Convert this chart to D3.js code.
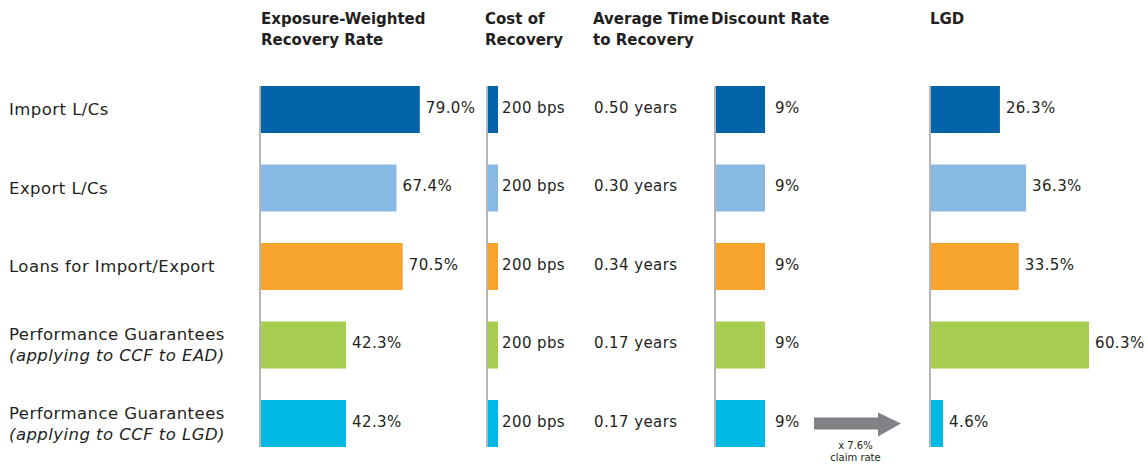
<!DOCTYPE html>
<html>
<head>
<meta charset="utf-8">
<script src="https://cdn.jsdelivr.net/npm/d3@7"></script>
<style>
  html, body { margin: 0; padding: 0; background: #fff; }
  svg { display: block; font-family: "DejaVu Sans", sans-serif; }
</style>
</head>
<body>
<svg id="chart" width="1148" height="464"></svg>
<script>
// Recovery assumptions by trade-finance product
const categories = [
  ["Import L/Cs"],
  ["Export L/Cs"],
  ["Loans for Import/Export"],
  ["Performance Guarantees", "(applying to CCF to EAD)"],
  ["Performance Guarantees", "(applying to CCF to LGD)"]
];
const colors = ["#0263a8", "#87b9e3", "#f7a42e", "#a6cd4f", "#00b9e4"];
const recoveryRate = [79.0, 67.4, 70.5, 42.3, 42.3];      // %
const costOfRecovery = [200, 200, 200, 200, 200];         // bps
const costLabels = ["200 bps", "200 bps", "200 bps", "200 pbs", "200 bps"];
const timeToRecovery = [0.50, 0.30, 0.34, 0.17, 0.17];    // years
const discountRate = [9, 9, 9, 9, 9];                     // %
const lgd = [26.3, 36.3, 33.5, 60.3, 4.6];                // %
const headers = [
  { lines: ["Exposure-Weighted", "Recovery Rate"], col: "rate" },
  { lines: ["Cost of", "Recovery"], col: "cost" },
  { lines: ["Average Time", "to Recovery"], col: "time" },
  { lines: ["Discount Rate"], col: "disc" },
  { lines: ["LGD"], col: "lgd" }
];
const claimNote = ["x 7.6%", "claim rate"];

const svg = d3.select("#chart");
const textColor = "#231f20";
const axisColor = "#b5b5b5";

const rows = d3.range(categories.length);
const y = d3.scaleBand().domain(rows).range([86, 447]).paddingInner(0.401).paddingOuter(0);

// one horizontal scale per column
const xRate = d3.scaleLinear().domain([0, 100]).range([261, 462]);
const xCost = d3.scaleLinear().domain([0, 200]).range([488, 498]);
const xTime = 594;
const xDisc = d3.scaleLinear().domain([0, 9]).range([716, 765]);
const xLgd = d3.scaleLinear().domain([0, 100]).range([931, 1193]);

const colX = { rate: 261, cost: 485, time: 593, disc: 711, lgd: 930 };

// column headers
headers.forEach(h => {
  const t = svg.append("text")
    .attr("x", colX[h.col]).attr("y", 24)
    .attr("font-size", 15).attr("font-weight", 700).attr("fill", textColor);
  h.lines.forEach((l, i) => t.append("tspan").attr("x", colX[h.col]).attr("dy", i ? 21 : 0).text(l));
});

// row labels
categories.forEach((lines, i) => {
  const cy = y(i) + y.bandwidth() / 2;
  const n = lines.length;
  lines.forEach((l, j) => {
    svg.append("text")
      .attr("x", 9)
      .attr("y", cy + (j - (n - 1) / 2) * 21)
      .attr("dy", "0.35em")
      .attr("font-size", 16.5)
      .attr("letter-spacing", 0.45)
      .attr("font-style", j > 0 ? "italic" : "normal")
      .attr("fill", textColor)
      .text(l);
  });
});

function barColumn(data, x, labelFn, labelX) {
  const g = svg.append("g");
  g.selectAll("rect").data(data).join("rect")
    .attr("x", x(0))
    .attr("y", (d, i) => y(i))
    .attr("width", d => x(d) - x(0))
    .attr("height", y.bandwidth())
    .attr("fill", (d, i) => colors[i]);
  g.append("line")
    .attr("x1", x(0) - 1).attr("x2", x(0) - 1)
    .attr("y1", y(0)).attr("y2", y(data.length - 1) + y.bandwidth())
    .attr("stroke", axisColor).attr("stroke-width", 2);
  g.selectAll("text").data(data).join("text")
    .attr("x", (d, i) => labelX(d, i))
    .attr("y", (d, i) => y(i) + y.bandwidth() / 2 - 2)
    .attr("dy", "0.35em")
    .attr("font-size", 15)
    .attr("letter-spacing", 0.4)
    .attr("fill", textColor)
    .text(labelFn);
}

barColumn(recoveryRate, xRate, d => d.toFixed(1) + "%", d => xRate(d) + 6);
barColumn(costOfRecovery, xCost, (d, i) => costLabels[i], () => 502);
barColumn(discountRate, xDisc, d => d + "%", () => 775);
barColumn(lgd, xLgd, d => d.toFixed(1) + "%", d => xLgd(d) + 6);

// average time column: text only
svg.append("g").selectAll("text").data(timeToRecovery).join("text")
  .attr("x", xTime)
  .attr("y", (d, i) => y(i) + y.bandwidth() / 2 - 2)
  .attr("dy", "0.35em")
  .attr("font-size", 15)
  .attr("letter-spacing", 0.4)
  .attr("fill", textColor)
  .text(d => d.toFixed(2) + " years");

// claim-rate arrow on the last row
const last = rows.length - 1;
const ay = y(last) + y.bandwidth() / 2;
const ax0 = xDisc(9) + 49, ax1 = xLgd(0) - 30, head = 23;
svg.append("path")
  .attr("d", `M${ax0},${ay - 6}H${ax1 - head}V${ay - 11}L${ax1},${ay}L${ax1 - head},${ay + 13}V${ay + 6}H${ax0}Z`)
  .attr("fill", "#808285");
claimNote.forEach((t, i) => {
  svg.append("text")
    .attr("x", (ax0 + ax1) / 2 - 2)
    .attr("y", ay + 26 + i * 12)
    .attr("text-anchor", "middle")
    .attr("font-size", 10)
    .attr("fill", textColor)
    .text(t);
});
</script>
</body>
</html>
